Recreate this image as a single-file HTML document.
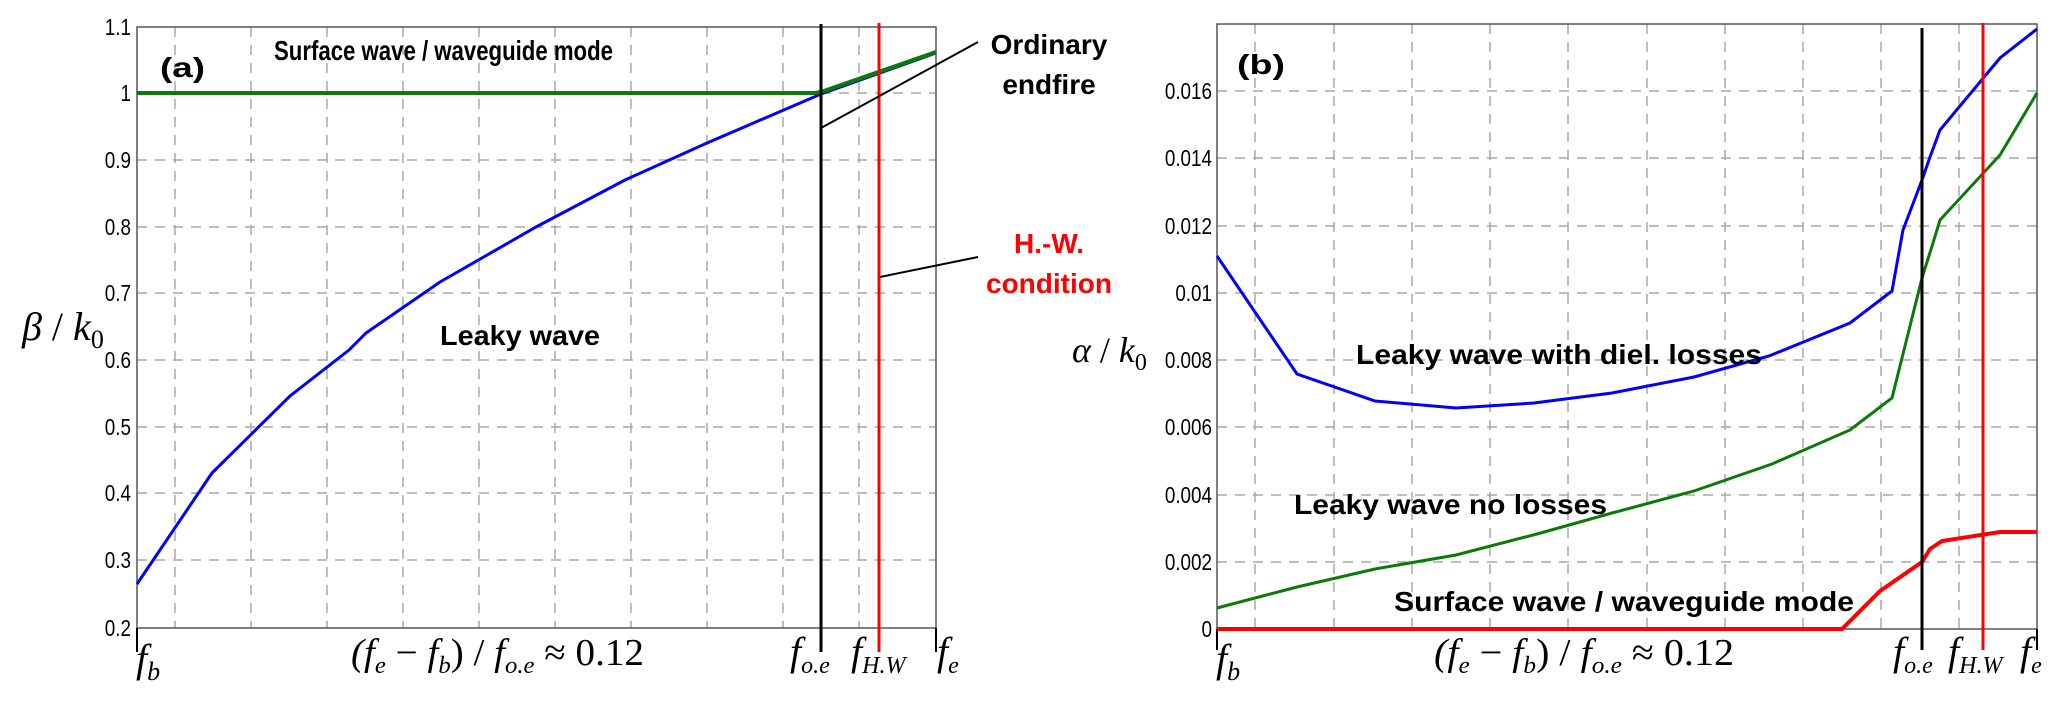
<!DOCTYPE html>
<html><head><meta charset="utf-8"><style>
html,body{margin:0;padding:0;background:#fff}
svg{display:block}
.t{font-family:"Liberation Sans Narrow","Liberation Sans",sans-serif;font-size:23px;fill:#000}
.b{font-family:"Liberation Sans Narrow","Liberation Sans",sans-serif;font-weight:bold;font-size:28px;fill:#000}
.m{font-family:"Liberation Serif",serif;font-style:italic;fill:#000}
.n{font-family:"Liberation Serif",serif;fill:#000}
.g{stroke:#a8a8a8;stroke-width:1.5;stroke-dasharray:10 8;fill:none}
</style></head><body>
<svg width="2067" height="704" viewBox="0 0 2067 704" xmlns="http://www.w3.org/2000/svg">
<g class="g">
<path d="M175 27V628M251 27V628M327 27V628M403 27V628M479 27V628M555 27V628M631 27V628M707 27V628M783 27V628M859 27V628"/>
<path d="M137 93H936M137 160H936M137 227H936M137 293H936M137 360H936M137 427H936M137 493H936M137 560H936"/>
</g>
<rect x="137" y="27" width="799" height="601" fill="none" stroke="#555" stroke-width="1.5"/>
<path d="M137 628V652M821 628V652M936 628V652" stroke="#000" stroke-width="2"/>
<polyline points="137,584 212,473 290,396 349,350 366,333 440,282 536,227 625,180 707,143 821,94 936,53" fill="none" stroke="#0000ff" stroke-width="3"/>
<polyline points="137,93 790,93 815,93 821,92 936,52" fill="none" stroke="#0a7a0a" stroke-width="4"/>
<line x1="821" y1="24" x2="821" y2="652" stroke="#000" stroke-width="3"/>
<line x1="879" y1="23" x2="879" y2="652" stroke="#ff0000" stroke-width="3"/>
<line x1="821" y1="128" x2="978" y2="42" stroke="#000" stroke-width="2"/>
<line x1="880" y1="277" x2="978" y2="257" stroke="#000" stroke-width="2"/>
<g class="t" text-anchor="end" transform="translate(131,0) scale(0.82,1)">
<text x="0" y="35">1.1</text><text x="0" y="101">1</text><text x="0" y="168">0.9</text><text x="0" y="235">0.8</text><text x="0" y="301">0.7</text><text x="0" y="368">0.6</text><text x="0" y="435">0.5</text><text x="0" y="501">0.4</text><text x="0" y="568">0.3</text><text x="0" y="636">0.2</text>
</g>
<text class="b" x="160" y="77" font-size="38" textLength="45" lengthAdjust="spacingAndGlyphs">(a)</text>
<text class="b" x="274" y="60" textLength="339" lengthAdjust="spacingAndGlyphs">Surface wave / waveguide mode</text>
<text class="b" x="440" y="345" textLength="160" lengthAdjust="spacingAndGlyphs">Leaky wave</text>
<text class="b" x="1049" y="54" font-size="33" text-anchor="middle">Ordinary</text>
<text class="b" x="1049" y="94" font-size="33" text-anchor="middle">endfire</text>
<text class="b" x="1049" y="253" font-size="33" text-anchor="middle" style="fill:#ff0000">H.-W.</text>
<text class="b" x="1049" y="293" font-size="33" text-anchor="middle" style="fill:#ff0000">condition</text>
<text class="m" x="22" y="340" font-size="40">β<tspan class="n" font-style="normal"> / </tspan>k<tspan font-size="26" dy="8" font-style="normal">0</tspan></text>
<text class="m" x="136" y="672" font-size="40">f<tspan font-size="26" dy="8">b</tspan></text>
<text class="m" x="351" y="665" font-size="38" textLength="293" lengthAdjust="spacingAndGlyphs">(f<tspan font-size="24" dy="8">e</tspan><tspan dy="-8" font-style="normal"> − </tspan>f<tspan font-size="24" dy="8">b</tspan><tspan dy="-8" font-style="normal">) / </tspan>f<tspan font-size="24" dy="8">o.e</tspan><tspan dy="-8" font-style="normal"> ≈ 0.12</tspan></text>
<text class="m" x="790" y="665" font-size="40">f<tspan font-size="24" dy="8">o.e</tspan></text>
<text class="m" x="851" y="665" font-size="40">f<tspan font-size="24" dy="8">H.W</tspan></text>
<text class="m" x="937" y="665" font-size="40">f<tspan font-size="24" dy="8">e</tspan></text>

<g class="g">
<path d="M1255 24V629M1334 24V629M1412 24V629M1490 24V629M1568 24V629M1647 24V629M1725 24V629M1803 24V629M1881 24V629M1959 24V629"/>
<path d="M1217 91H2037M1217 158H2037M1217 226H2037M1217 293H2037M1217 360H2037M1217 427H2037M1217 495H2037M1217 562H2037"/>
</g>
<rect x="1217" y="24" width="820" height="605" fill="none" stroke="#555" stroke-width="1.5"/>
<path d="M1217 629V650M1922 629V650M2037 629V650" stroke="#000" stroke-width="2"/>
<polyline points="1217,256 1297,374 1375,401 1456,408 1534,403 1612,393 1694,377 1769,356 1850,323 1892,291 1903,230 1922,180 1930,157 1940,130 2000,58 2037,29" fill="none" stroke="#0000ff" stroke-width="3"/>
<polyline points="1217,608 1297,587 1375,569 1456,555 1537,534 1612,513 1694,491 1772,464 1850,430 1892,398 1922,278 1933,243 1940,220 2000,155 2037,93" fill="none" stroke="#0a7a0a" stroke-width="3"/>
<polyline points="1217,629 1842,629 1880,591 1922,562 1930,549 1942,541 2000,532 2037,532" fill="none" stroke="#ff0000" stroke-width="4"/>
<line x1="1922" y1="28" x2="1922" y2="650" stroke="#000" stroke-width="3"/>
<line x1="1983" y1="23" x2="1983" y2="650" stroke="#ff0000" stroke-width="3"/>
<g class="t" text-anchor="end" transform="translate(1212,0) scale(0.82,1)">
<text x="0" y="99">0.016</text><text x="0" y="166">0.014</text><text x="0" y="234">0.012</text><text x="0" y="301">0.01</text><text x="0" y="368">0.008</text><text x="0" y="435">0.006</text><text x="0" y="503">0.004</text><text x="0" y="570">0.002</text><text x="0" y="637">0</text>
</g>
<text class="b" x="1237" y="74" font-size="38" textLength="48" lengthAdjust="spacingAndGlyphs">(b)</text>
<text class="b" x="1356" y="364" textLength="406" lengthAdjust="spacingAndGlyphs">Leaky wave with diel. losses</text>
<text class="b" x="1294" y="514" textLength="313" lengthAdjust="spacingAndGlyphs">Leaky wave no losses</text>
<text class="b" x="1394" y="611" textLength="460" lengthAdjust="spacingAndGlyphs">Surface wave / waveguide mode</text>
<text class="m" x="1072" y="362" font-size="36">α<tspan class="n" font-style="normal"> / </tspan>k<tspan font-size="24" dy="8" font-style="normal">0</tspan></text>
<text class="m" x="1216" y="672" font-size="40">f<tspan font-size="26" dy="8">b</tspan></text>
<text class="m" x="1434" y="665" font-size="38" textLength="300" lengthAdjust="spacingAndGlyphs">(f<tspan font-size="24" dy="8">e</tspan><tspan dy="-8" font-style="normal"> − </tspan>f<tspan font-size="24" dy="8">b</tspan><tspan dy="-8" font-style="normal">) / </tspan>f<tspan font-size="24" dy="8">o.e</tspan><tspan dy="-8" font-style="normal"> ≈ 0.12</tspan></text>
<text class="m" x="1893" y="665" font-size="40">f<tspan font-size="24" dy="8">o.e</tspan></text>
<text class="m" x="1948" y="665" font-size="40">f<tspan font-size="24" dy="8">H.W</tspan></text>
<text class="m" x="2020" y="665" font-size="40">f<tspan font-size="24" dy="8">e</tspan></text>
</svg>
</body></html>
